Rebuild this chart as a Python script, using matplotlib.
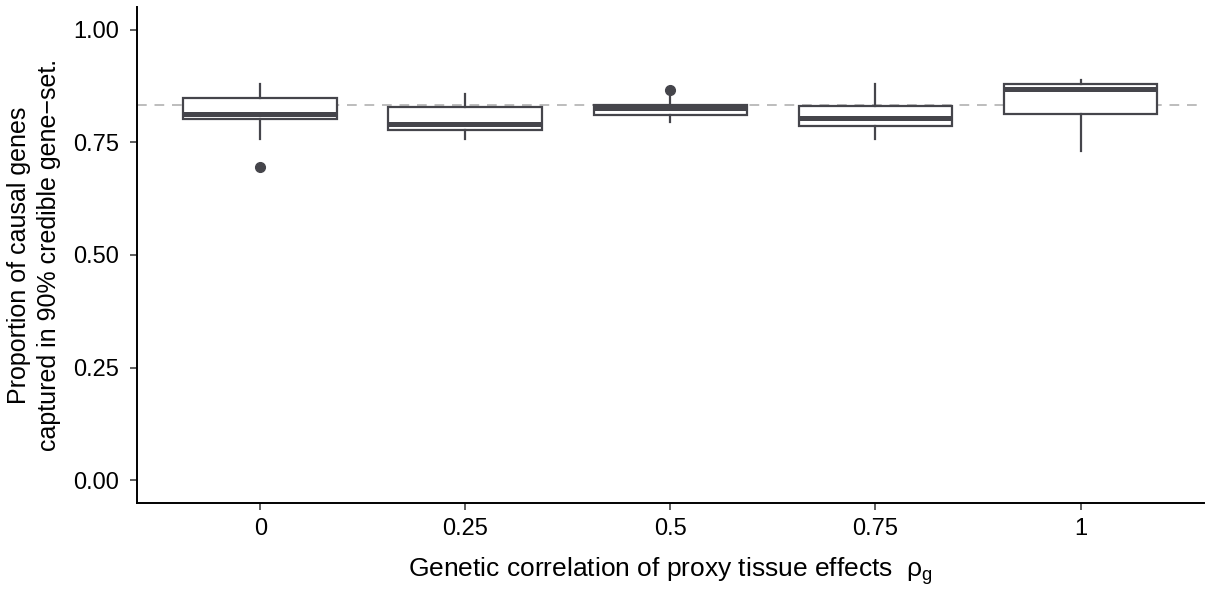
import matplotlib
matplotlib.use("Agg")
import matplotlib.pyplot as plt

plt.rcParams['font.family'] = ['Liberation Sans', 'DejaVu Sans']
plt.rcParams['mathtext.default'] = 'regular'

categories = ["0", "0.25", "0.5", "0.75", "1"]
whislo = [0.757, 0.758, 0.796, 0.757, 0.732]
q1 = [0.802, 0.778, 0.811, 0.787, 0.813]
med = [0.813, 0.791, 0.826, 0.805, 0.868]
q3 = [0.848, 0.828, 0.833, 0.830, 0.881]
whishi = [0.879, 0.857, 0.853, 0.881, 0.888]
fliers = [[0.696], [], [0.866], [], []]
reference_level = 0.834
y_ticks = [0.0, 0.25, 0.5, 0.75, 1.0]
y_ticklabels = ["0.00", "0.25", "0.50", "0.75", "1.00"]

fig = plt.figure(figsize=(12.14, 5.9), dpi=100)
ax = fig.add_axes([0.1131, 0.1483, 0.9914 - 0.1131, 0.9873 - 0.1483])

stats = []
for i, c in enumerate(categories):
    stats.append(dict(label=c, whislo=whislo[i], q1=q1[i], med=med[i],
                      q3=q3[i], whishi=whishi[i], fliers=fliers[i]))

positions = list(range(1, len(categories) + 1))
ax.axhline(reference_level, color='#bdbdbd', lw=1.4, ls=(0, (5, 4)), zorder=1)

dark = '#45454b'
ax.bxp(stats, positions=positions, widths=0.75, showcaps=False,
       patch_artist=True,
       boxprops=dict(facecolor='white', edgecolor=dark, linewidth=1.6),
       medianprops=dict(color=dark, linewidth=3.6, solid_capstyle='butt'),
       whiskerprops=dict(color=dark, linewidth=1.6),
       flierprops=dict(marker='o', markerfacecolor=dark, markeredgecolor=dark,
                       markersize=7),
       zorder=2)

ax.set_xlim(0.4, len(categories) + 0.6)
ax.set_ylim(-0.05, 1.05)
ax.set_yticks(y_ticks)
ax.set_yticklabels(y_ticklabels)
ax.set_xticks(positions)
ax.set_xticklabels(categories)

for s in ['top', 'right']:
    ax.spines[s].set_visible(False)
for s in ['left', 'bottom']:
    ax.spines[s].set_linewidth(1.4)
    ax.spines[s].set_color('black')

ax.tick_params(axis='both', labelsize=17, length=5, width=1.1, color='#333333',
               labelcolor='black')
ax.tick_params(axis='x', pad=6)
ax.tick_params(axis='y', pad=8)

ax.set_ylabel("Proportion of causal genes\ncaptured in 90% credible gene\u2212set.",
              fontsize=18, linespacing=1.28)
ax.yaxis.set_label_coords(-0.072, 0.5)
ax.set_xlabel("Genetic correlation of proxy tissue effects  $\u03c1_g$",
              fontsize=19, labelpad=11)

fig.savefig("out.png", dpi=100)
